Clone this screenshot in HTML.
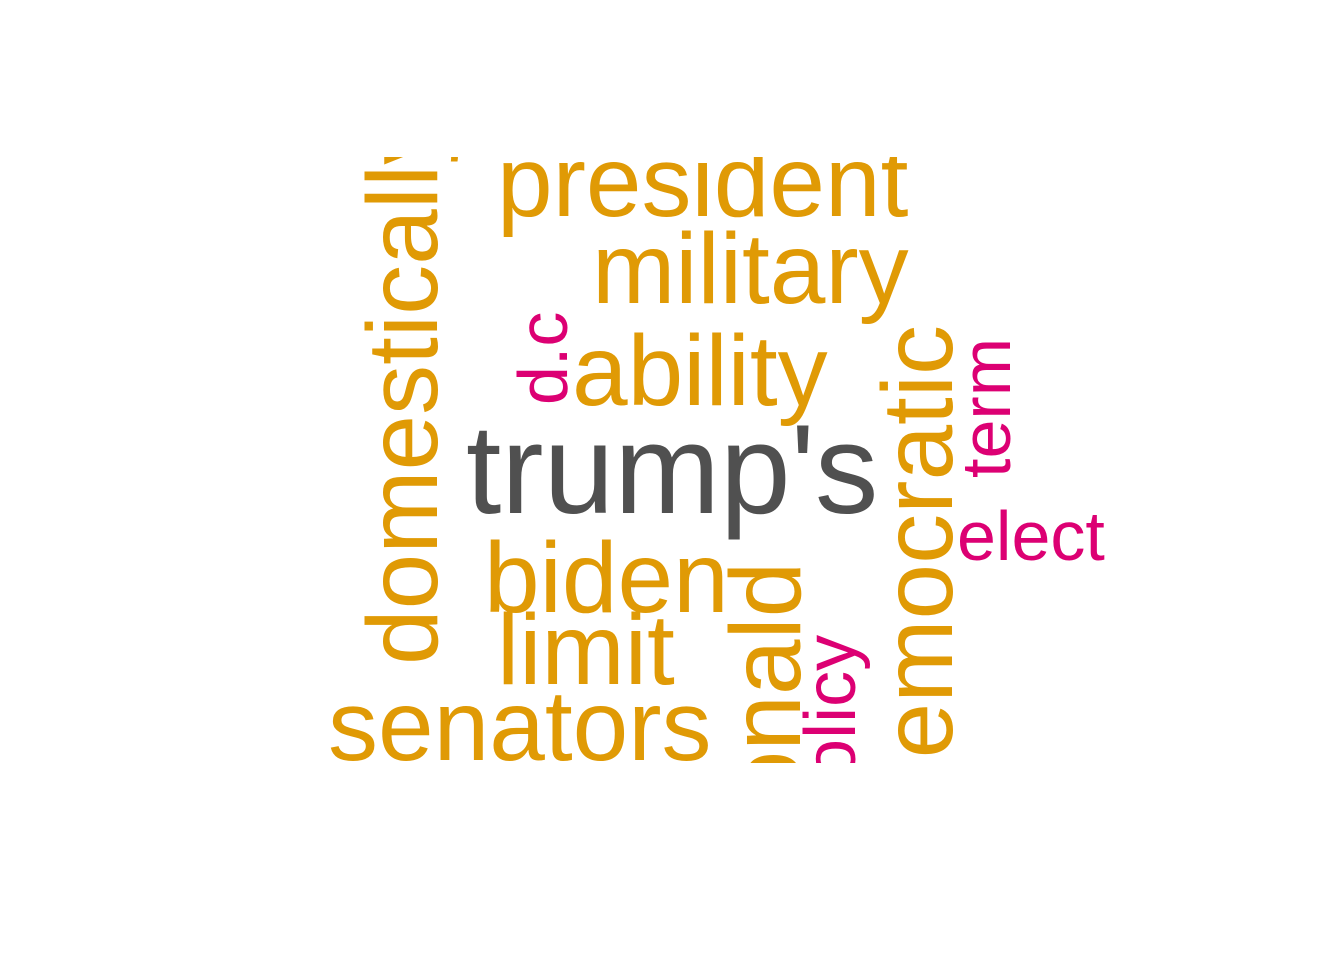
<!DOCTYPE html>
<html><head><meta charset="utf-8"><style>
html,body{margin:0;padding:0;background:#fff;}
svg{display:block;}
text{font-family:"Liberation Sans",Arial,sans-serif;}
</style></head><body>
<svg id="cloud" width="1344" height="960" viewBox="0 0 1344 960">
<defs><clipPath id="clip"><rect x="0" y="157" width="1344" height="606"/></clipPath></defs>
<g id="words" clip-path="url(#clip)"></g>
</svg>
<script>
const words = ["president","military","ability","trump's","biden","limit","senators","domestically","d.c","donald","policy","democratic","term","elect"];
const sizes = [100,100,100,127,100,100,100,100,70,100,72,100,70,70];
const groups = ["o","o","o","g","o","o","o","o","m","o","m","o","m","m"];
const anchorX = [497,592,572,466,484,497,328,437,567,800,855,952,1010,957];
const anchorY = [216,303,405,513,612,684,760,665,405,862,819,814,478,560];
const rotated = [0,0,0,0,0,0,0,1,1,1,1,1,1,0];
const colorMap = {o:"#E09A05",g:"#505050",m:"#DC0073"};
const g = document.getElementById('words');
words.forEach((w,i)=>{
  const t = document.createElementNS('http://www.w3.org/2000/svg','text');
  
  
  t.setAttribute('font-size', sizes[i]);
  t.setAttribute('fill', colorMap[groups[i]]);
  if (rotated[i]) t.setAttribute('transform', `translate(${anchorX[i]},${anchorY[i]}) rotate(-90)`);
  else { t.setAttribute('x', anchorX[i]); t.setAttribute('y', anchorY[i]); }
  t.textContent = w;
  g.appendChild(t);
});
</script>
</body></html>
